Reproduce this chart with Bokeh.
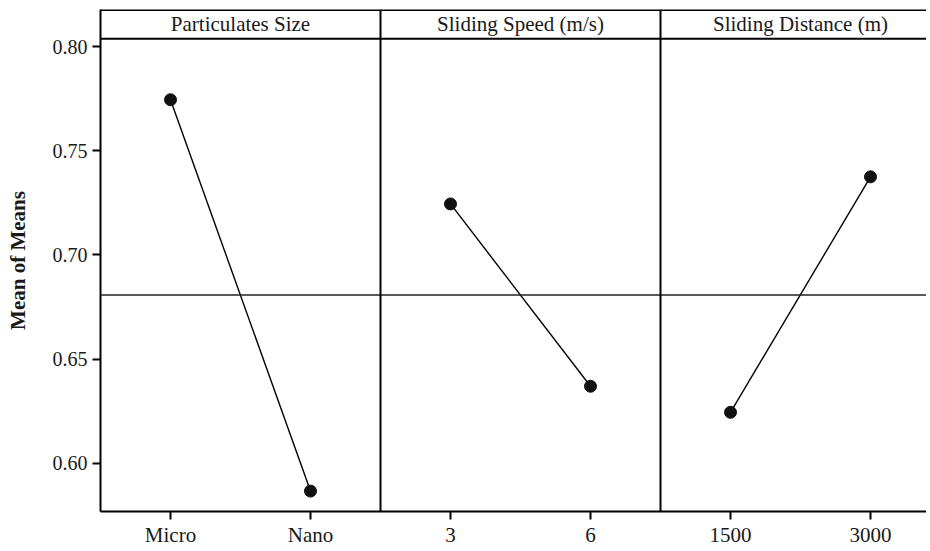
from bokeh.plotting import figure
from bokeh.models import Range1d, FixedTicker, Span, ColumnDataSource
from bokeh.core.properties import value
from bokeh.embed import file_html
from bokeh.resources import INLINE

# ---- data ----
factors = ["Particulates Size", "Sliding Speed (m/s)", "Sliding Distance (m)"]
levels_ps = ["Micro", "Nano"]
levels_ss = ["3", "6"]
levels_sd = ["1500", "3000"]
means_ps = [0.7745, 0.5867]
means_ss = [0.7245, 0.6370]
means_sd = [0.6245, 0.7375]
grand_mean = 0.6808
y_ticks = [0.60, 0.65, 0.70, 0.75, 0.80]

FONT = "Liberation Serif"
y_lo, y_hi = 0.5769, 0.8178
header_y = 0.8038

p = figure(width=926, height=549, output_backend="svg", toolbar_location=None,
           x_range=Range1d(0.5, 6.4), y_range=Range1d(y_lo, y_hi),
           min_border_left=100, min_border_top=9, min_border_right=0, min_border_bottom=0)
p.grid.visible = False
p.outline_line_color = None
p.background_fill_color = "white"
p.border_fill_color = "white"

all_levels = levels_ps + levels_ss + levels_sd
xt = [1, 2, 3, 4, 5, 6]
p.xaxis.ticker = FixedTicker(ticks=xt)
p.xaxis.major_label_overrides = {t: lab for t, lab in zip(xt, all_levels)}
p.yaxis.ticker = FixedTicker(ticks=y_ticks)
p.yaxis.major_label_overrides = {t: f"{t:.2f}" for t in y_ticks}

for ax in (p.xaxis[0], p.yaxis[0]):
    ax.axis_line_color = "black"
    ax.axis_line_width = 2
    ax.major_tick_line_color = "black"
    ax.major_tick_line_width = 2
    ax.major_tick_in = 0
    ax.major_tick_out = 8
    ax.minor_tick_line_color = None
    ax.major_label_text_font = FONT
    ax.major_label_text_font_size = "21px"
    ax.major_label_text_color = "#1a1a1a"
p.yaxis.major_label_text_font_size = "20px"
p.xaxis.major_label_standoff = 3
p.yaxis.major_label_standoff = 5
p.yaxis.axis_label = "Mean of Means"
p.yaxis.axis_label_text_font = FONT
p.yaxis.axis_label_text_font_size = "21px"
p.yaxis.axis_label_text_font_style = "bold"
p.yaxis.axis_label_text_color = "#1a1a1a"
p.yaxis.axis_label_standoff = 20

# top border, grand mean line, header strip line, panel separators
p.add_layout(Span(location=y_hi, dimension="width", line_color="black", line_width=3))
p.add_layout(Span(location=grand_mean, dimension="width", line_color="#222222", line_width=1.4))
p.add_layout(Span(location=header_y, dimension="width", line_color="black", line_width=2))
for xs in (2.5, 4.5):
    p.add_layout(Span(location=xs, dimension="height", line_color="black", line_width=2))

# panel lines and points
for i, m in enumerate([means_ps, means_ss, means_sd]):
    xs = [2 * i + 1, 2 * i + 2]
    p.line(xs, m, line_color="black", line_width=1.4)
    p.scatter(xs, m, size=12, marker="circle", fill_color="#111111", line_color="#111111")

# header titles
src = ColumnDataSource(dict(x=[1.5, 3.5, 5.5], y=[(header_y + y_hi) / 2] * 3, t=factors))
p.text(x="x", y="y", text="t", source=src, text_align="center", text_baseline="middle",
       text_font=value(FONT), text_font_size="21px", text_color="#1a1a1a")

open("out.html", "w").write(file_html(p, INLINE))
